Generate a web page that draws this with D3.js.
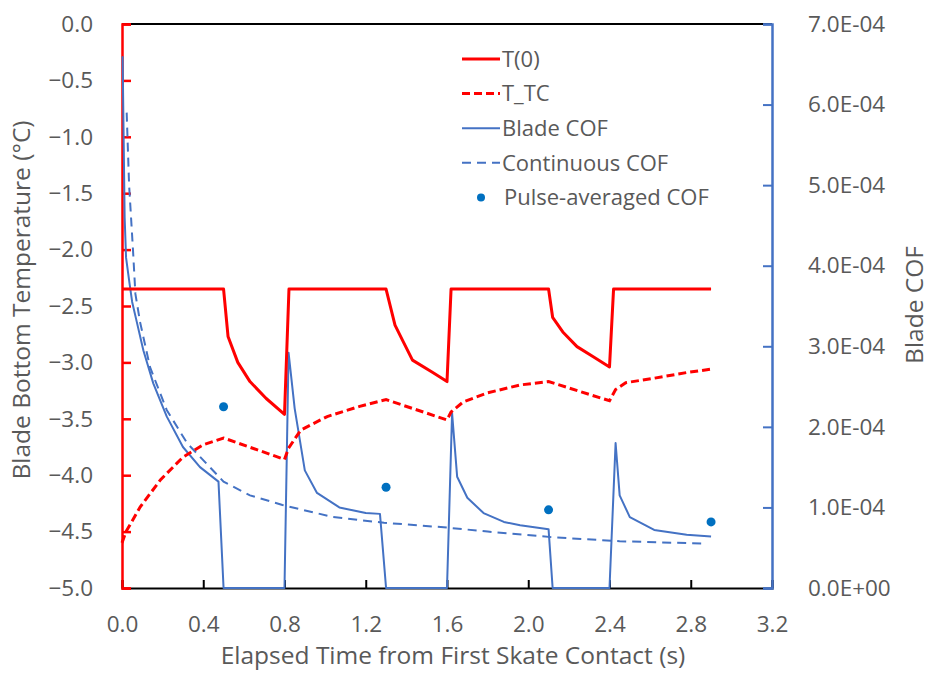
<!DOCTYPE html>
<html>
<head>
<meta charset="utf-8">
<script src="https://cdn.jsdelivr.net/npm/d3@7"></script>
<style>
  body { margin: 0; background: #fff; }
  text { font-family: "Open Sans", sans-serif; fill: #595959; }
</style>
</head>
<body>
<script>
// surface temperature T(0), deg C
const t0Time = [0, 0.5, 0.522, 0.57, 0.63, 0.71, 0.8, 0.822, 1.3, 1.344, 1.38, 1.43, 1.53, 1.6, 1.62, 2.1, 2.12, 2.17, 2.24, 2.32, 2.4, 2.42, 2.9];
const t0Val  = [-2.35, -2.35, -2.77, -3.0, -3.17, -3.32, -3.46, -2.35, -2.35, -2.67, -2.8, -2.98, -3.09, -3.17, -2.35, -2.35, -2.6, -2.73, -2.86, -2.95, -3.04, -2.35, -2.35];

// thermocouple temperature T_TC
const tcTime = [0, 0.02, 0.09, 0.19, 0.3, 0.4, 0.5, 0.8, 0.82, 0.88, 1.01, 1.17, 1.3, 1.6, 1.62, 1.68, 1.8, 1.96, 2.1, 2.4, 2.43, 2.48, 2.62, 2.78, 2.9];
const tcVal  = [-4.6, -4.5, -4.28, -4.04, -3.84, -3.73, -3.67, -3.86, -3.76, -3.6, -3.48, -3.39, -3.33, -3.51, -3.44, -3.35, -3.27, -3.2, -3.17, -3.34, -3.24, -3.18, -3.14, -3.09, -3.06];

// blade COF (pulsed)
const cofTime = [0.003, 0.008, 0.013, 0.02, 0.036, 0.05, 0.073, 0.105, 0.154, 0.22, 0.3, 0.384, 0.475, 0.5, 0.8, 0.82, 0.85, 0.9, 0.96, 1.07, 1.2, 1.27, 1.3, 1.6, 1.625, 1.65, 1.7, 1.78, 1.88, 1.96, 2.1, 2.12, 2.4, 2.43, 2.45, 2.5, 2.62, 2.78, 2.9];
const cofVal  = [6.6e-4, 5.6e-4, 4.6e-4, 4.1e-4, 3.8e-4, 3.55e-4, 3.3e-4, 2.95e-4, 2.54e-4, 2.13e-4, 1.75e-4, 1.5e-4, 1.32e-4, 0, 0, 2.92e-4, 2.23e-4, 1.46e-4, 1.18e-4, 1.0e-4, 0.93e-4, 0.92e-4, 0, 0, 2.17e-4, 1.38e-4, 1.12e-4, 0.93e-4, 0.82e-4, 0.78e-4, 0.73e-4, 0, 0, 1.8e-4, 1.15e-4, 0.88e-4, 0.72e-4, 0.66e-4, 0.64e-4];

// continuous COF
const contTime = [0.023, 0.035, 0.054, 0.066, 0.089, 0.138, 0.22, 0.32, 0.5, 0.63, 0.79, 1.04, 1.29, 1.6, 1.8, 2.12, 2.45, 2.88];
const contVal  = [5.9e-4, 5.0e-4, 4.2e-4, 3.65e-4, 3.3e-4, 2.74e-4, 2.21e-4, 1.8e-4, 1.32e-4, 1.15e-4, 1.03e-4, 0.88e-4, 0.81e-4, 0.75e-4, 0.7e-4, 0.63e-4, 0.58e-4, 0.55e-4];

// pulse-averaged COF
const avgTime = [0.5, 1.3, 2.1, 2.9];
const avgVal  = [2.25e-4, 1.25e-4, 0.97e-4, 0.82e-4];

const leftTicks = d3.range(0, 11).map(i => -i * 0.5);
const rightTicks = d3.range(0, 8).map(i => i * 1e-4);
const xTicks = d3.range(0, 9).map(i => i * 0.4);

const width = 934, height = 673;
const margin = {top: 24, right: 162, bottom: 85, left: 122};

const svg = d3.select("body").append("svg")
    .attr("width", width)
    .attr("height", height);

const x = d3.scaleLinear().domain([0, 3.2]).range([margin.left, width - margin.right]);
const yL = d3.scaleLinear().domain([-5, 0]).range([height - margin.bottom, margin.top]);
const yR = d3.scaleLinear().domain([0, 7e-4]).range([height - margin.bottom, margin.top]);

const red = "#ff0000", blue = "#4472c4", dot = "#0070c0";
const fs = 22.5;   // tick labels
const ts = 24.5;   // axis titles

// top border
svg.append("line")
    .attr("x1", x(0)).attr("x2", x(3.2))
    .attr("y1", yL(0)).attr("y2", yL(0))
    .attr("stroke", "#000").attr("stroke-width", 2);

const xAxis = svg.append("g")
    .attr("transform", `translate(0,${yL(-5)})`)
    .call(d3.axisBottom(x).tickValues(xTicks).tickFormat(d3.format(".1f")).tickSize(-8).tickPadding(28));
xAxis.select(".domain").attr("stroke", "#000").attr("stroke-width", 2);
xAxis.selectAll(".tick line").attr("stroke", "#000").attr("stroke-width", 2);

const lAxis = svg.append("g")
    .attr("transform", `translate(${x(0)},0)`)
    .call(d3.axisLeft(yL).tickValues(leftTicks).tickFormat(d3.format(".1f")).tickSize(-9).tickPadding(29));
lAxis.select(".domain").attr("stroke", red).attr("stroke-width", 2.5);
lAxis.selectAll(".tick line").attr("stroke", red).attr("stroke-width", 2.5);

const rAxis = svg.append("g")
    .attr("transform", `translate(${x(3.2)},0)`)
    .call(d3.axisRight(yR).tickValues(rightTicks)
      .tickFormat(d => d === 0 ? "0.0E+00" : (d / 1e-4).toFixed(1) + "E-04")
      .tickSize(-9).tickPadding(36));
rAxis.select(".domain").attr("stroke", blue).attr("stroke-width", 2.5);
rAxis.selectAll(".tick line").attr("stroke", blue).attr("stroke-width", 2);

svg.selectAll(".tick text")
    .style("font-family", "'Open Sans', sans-serif")
    .style("font-size", fs + "px")
    .attr("fill", "#595959");

// axis titles
svg.append("text")
    .attr("x", 453).attr("y", 664)
    .attr("text-anchor", "middle")
    .style("font-size", ts + "px")
    .text("Elapsed Time from First Skate Contact (s)");

svg.append("text")
    .attr("transform", `translate(30,${300}) rotate(-90)`)
    .attr("text-anchor", "middle")
    .style("font-size", ts + "px")
    .text("Blade Bottom Temperature (°C)");

svg.append("text")
    .attr("transform", `translate(923,${305}) rotate(-90)`)
    .attr("text-anchor", "middle")
    .style("font-size", ts + "px")
    .text("Blade COF");

// series
const lineL = d3.line().x(d => x(d[0])).y(d => yL(d[1]));
const lineR = d3.line().x(d => x(d[0])).y(d => yR(d[1]));

svg.append("path")
    .datum(d3.zip(contTime, contVal))
    .attr("d", lineR)
    .attr("fill", "none").attr("stroke", blue)
    .attr("stroke-width", 2).attr("stroke-dasharray", "9,6");

svg.append("path")
    .datum(d3.zip(cofTime, cofVal))
    .attr("d", lineR)
    .attr("fill", "none").attr("stroke", blue)
    .attr("stroke-width", 2).attr("stroke-linejoin", "round");

svg.append("path")
    .datum(d3.zip(tcTime, tcVal))
    .attr("d", lineL)
    .attr("fill", "none").attr("stroke", red)
    .attr("stroke-width", 3).attr("stroke-dasharray", "8,4");

svg.append("path")
    .datum(d3.zip(t0Time, t0Val))
    .attr("d", lineL)
    .attr("fill", "none").attr("stroke", red)
    .attr("stroke-width", 3).attr("stroke-linejoin", "round");

svg.append("g")
  .selectAll("circle")
  .data(d3.zip(avgTime, avgVal))
  .join("circle")
    .attr("cx", d => x(d[0]))
    .attr("cy", d => yR(d[1]))
    .attr("r", 4.5)
    .attr("fill", dot);

// legend
const legend = [
  {name: "T(0)", type: "line", color: red, w: 3, dash: null},
  {name: "T_TC", type: "line", color: red, w: 3, dash: "8,4"},
  {name: "Blade COF", type: "line", color: blue, w: 2, dash: null},
  {name: "Continuous COF", type: "line", color: blue, w: 2, dash: "9,6"},
  {name: "Pulse-averaged COF", type: "dot", color: dot}
];

const lg = svg.append("g").selectAll("g")
  .data(legend)
  .join("g")
    .attr("transform", (d, i) => `translate(462,${59 + i * 34.6})`);

lg.filter(d => d.type === "line").append("line")
    .attr("x1", 0).attr("x2", 38)
    .attr("stroke", d => d.color)
    .attr("stroke-width", d => d.w)
    .attr("stroke-dasharray", d => d.dash);

lg.filter(d => d.type === "dot").append("circle")
    .attr("cx", 19).attr("r", 4)
    .attr("fill", d => d.color);

lg.append("text")
    .attr("x", d => d.type === "dot" ? 42 : 40)
    .attr("dy", "0.35em")
    .style("font-size", "22px")
    .text(d => d.name);
</script>
</body>
</html>
